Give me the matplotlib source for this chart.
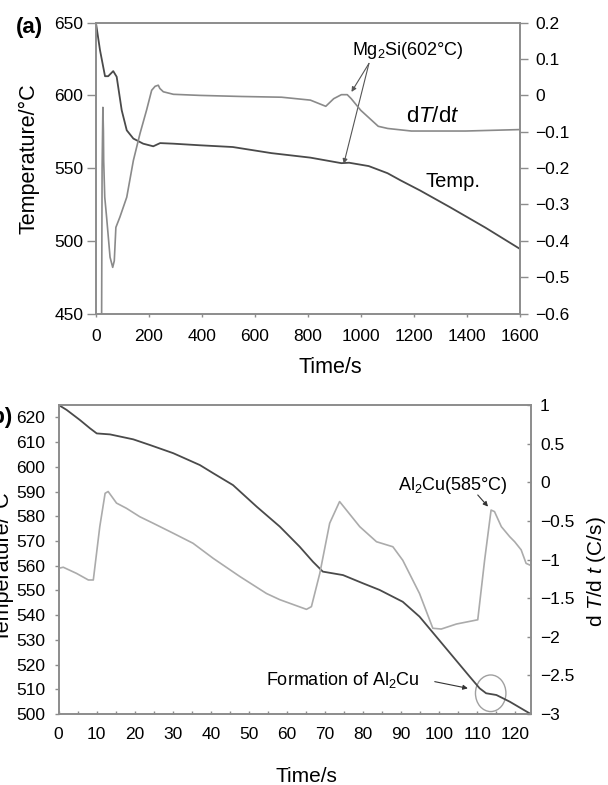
import numpy as np
import matplotlib
matplotlib.use("Agg")
import matplotlib.pyplot as plt
from matplotlib.ticker import MultipleLocator, FuncFormatter
from matplotlib.patches import Ellipse

plt.rcParams["font.family"] = ["Liberation Sans", "DejaVu Sans"]
plt.rcParams["mathtext.fontset"] = "custom"
plt.rcParams["mathtext.rm"] = "Liberation Sans"
plt.rcParams["mathtext.it"] = "Liberation Sans:italic"
plt.rcParams["mathtext.default"] = "regular"

#%% data
# (a) cooling curve, long run
a_time_temp = [0, 15, 34, 46, 65, 78, 97, 116, 141, 178, 216, 242, 292, 392, 516, 662,
               809, 926, 955, 1029, 1100, 1150, 1223, 1336, 1470, 1600]
a_temp = [649.6, 631.2, 613.2, 613.2, 616.7, 612.8, 589.8, 576.0, 570.3, 566.8, 565.0, 567.2,
          566.8, 565.7, 564.5, 560.3, 557.2, 553.4, 553.7, 551.4, 546.5, 541.5, 534.6, 523.1,
          509.0, 494.4]
a_time_rate = [21, 23, 26, 28, 29, 33, 40, 53, 63, 69, 75, 90, 116, 141, 166, 191, 210, 223,
               235, 241, 254, 292, 392, 550, 700, 809, 867, 897, 926, 948, 963, 999, 1065,
               1101, 1190, 1395, 1600]
a_rate = [-0.65, -0.2, -0.033, -0.1, -0.18, -0.28, -0.335, -0.445, -0.473, -0.455, -0.363,
          -0.335, -0.28, -0.179, -0.105, -0.04, 0.014, 0.025, 0.028, 0.019, 0.01, 0.003, 0.0,
          -0.003, -0.005, -0.013, -0.030, -0.009, 0.002, 0.002, -0.009, -0.041, -0.085,
          -0.091, -0.098, -0.098, -0.094]

# (b) cooling curve, short run
b_time_temp = [0, 2.1, 5.6, 8.2, 10, 13.5, 19.6, 24, 30.1, 37.1, 40.6, 45.8, 52, 58.1, 63.3,
               66.8, 69.4, 74.7, 79.9, 84.3, 90.4, 94.8, 99.2, 103.6, 108, 110.6, 112.3, 115,
               118.5, 123.7]
b_temp = [625, 623, 618.9, 615.6, 613.5, 613.1, 611.1, 608.8, 605.5, 600.7, 597.4, 592.6,
          583.9, 575.8, 567.7, 561.6, 557.6, 556.2, 552.9, 550.2, 545.4, 539.4, 531.3, 523.2,
          515.1, 510.4, 508.4, 507.7, 505.0, 500.3]
b_time_rate = [0, 1.2, 4.7, 7.8, 9.1, 10.8, 12.2, 13, 15.2, 17.8, 21.3, 24.8, 30.1, 35.3, 40.6,
               47.6, 54.6, 58.1, 65.1, 66.4, 68.6, 71.2, 73.8, 79.1, 83.5, 87.8, 90.4, 94.8,
               98.3, 100.5, 104.5, 110.1, 111.9, 113.6, 114.5, 116.3, 118.5, 119.8, 121.5,
               122.8, 123.7]
b_rate = [-1.114, -1.10, -1.18, -1.265, -1.265, -0.575, -0.143, -0.12, -0.27, -0.337, -0.446,
          -0.53, -0.66, -0.79, -0.985, -1.22, -1.44, -1.52, -1.645, -1.61, -1.18, -0.53, -0.25,
          -0.575, -0.77, -0.835, -1.01, -1.44, -1.89, -1.90, -1.835, -1.78, -1.01, -0.36,
          -0.38, -0.575, -0.705, -0.77, -0.875, -1.05, -1.07]

# annotation anchors (time, temperature)
mg2si_text = (1177, 631.2)
mg2si_tail = (1030, 622)
mg2si_tips = [(964, 602.4), (935, 553)]
al2cu_text = (103.5, 592.6)
al2cu_arrow = [(110.1, 588.6), (112.8, 583.9)]
form_text = (54.4, 513.8)
form_arrow = [(98.8, 513.1), (107.5, 510.4)]
circle_xy = (113.5, 508.4)

#%% styles
spine_c = "#8c8c8c"
temp_c = "#4a4a4a"
rate_c_a = "#8a8a8a"
rate_c_b = "#ababab"
fmt = FuncFormatter(lambda v, p: ("%g" % round(v, 2)).replace("-", "\u2212"))


def style_spines(axis):
    for s in axis.spines.values():
        s.set_color(spine_c)
        s.set_linewidth(1.2)


fig = plt.figure(figsize=(6.08, 7.85), dpi=100)

#%% panel (a)
ax1 = fig.add_axes([0.1579, 0.6006, 0.6974, 0.3705])
ax1r = ax1.twinx()
ax1.plot(a_time_temp, a_temp, color=temp_c, lw=1.3)
ax1r.plot(a_time_rate, a_rate, color=rate_c_a, lw=1.2)
ax1.set_xlim(0, 1600)
ax1.set_ylim(450, 650)
ax1r.set_ylim(-0.6, 0.2)
ax1.xaxis.set_major_locator(MultipleLocator(200))
ax1.yaxis.set_major_locator(MultipleLocator(50))
ax1r.yaxis.set_major_locator(MultipleLocator(0.1))
ax1r.yaxis.set_major_formatter(fmt)
ax1.tick_params(axis="y", direction="out", length=6.3, width=1, color=spine_c, pad=2.9,
                labelsize=12.5)
ax1.tick_params(axis="x", direction="out", length=2.3, width=1, color=spine_c, pad=9,
                labelsize=12.5)
ax1r.tick_params(axis="y", direction="out", length=6, width=1, color=spine_c, pad=4.8,
                 labelsize=12.5)
style_spines(ax1)
style_spines(ax1r)
ax1.set_ylabel("Temperature/\u00b0C", fontsize=15.5, va="center")
ax1.yaxis.set_label_coords(-0.158, 0.532)
ax1.set_xlabel("Time/s", fontsize=15.5, va="center")
ax1.xaxis.set_label_coords(0.552, -0.187)

ax1.text(*mg2si_text, "Mg$_2$Si(602\u00b0C)", fontsize=13, ha="center", va="center")
for tip in mg2si_tips:
    ax1.annotate("", xy=tip, xytext=mg2si_tail,
                 arrowprops=dict(arrowstyle="-|>", color="#555555", lw=0.8,
                                 mutation_scale=7, shrinkA=0, shrinkB=0))
ax1.text(1270, 585.2, "d$\\mathit{T}$/d$\\mathit{t}$", fontsize=16, ha="center", va="center")
ax1.text(1348, 540.8, "Temp.", fontsize=14.5, ha="center", va="center")
fig.text(29 / 608, 1 - 27 / 785, "(a)", fontsize=16, fontweight="bold", ha="center",
         va="center")

#%% panel (b)
ax2 = fig.add_axes([0.0965, 0.0904, 0.7763, 0.3937])
ax2r = ax2.twinx()
ax2.plot(b_time_temp, b_temp, color=temp_c, lw=1.3)
ax2r.plot(b_time_rate, b_rate, color=rate_c_b, lw=1.2)
ax2.set_xlim(0, 124)
ax2.set_ylim(500, 625)
ax2r.set_ylim(-3, 1)
ax2.xaxis.set_major_locator(MultipleLocator(10))
ax2.xaxis.set_minor_locator(MultipleLocator(5))
ax2.set_yticks(np.arange(500, 621, 10))
ax2r.yaxis.set_major_locator(MultipleLocator(0.5))
ax2r.yaxis.set_major_formatter(fmt)
ax2.tick_params(axis="y", direction="out", length=3, width=1, color=spine_c, pad=6.5,
                labelsize=12.5)
ax2.tick_params(axis="x", which="both", direction="in", length=2.5, width=1, color=spine_c,
                pad=9.5, labelsize=12.5)
ax2r.tick_params(axis="y", direction="in", length=3, width=1, color=spine_c, pad=6.7,
                 labelsize=12.5)
style_spines(ax2)
style_spines(ax2r)
ax2.set_ylabel("Temperature/\u00b0C", fontsize=15.5, va="center")
ax2.yaxis.set_label_coords(-0.118, 0.478)
ax2.set_xlabel("Time/s", fontsize=15, va="center")
ax2.xaxis.set_label_coords(0.525, -0.203)
ax2r.set_ylabel("d $\\mathit{T}$/d $\\mathit{t}$ (C/s)", fontsize=15, va="center")
ax2r.yaxis.set_label_coords(1.14, 0.46)

ax2.text(*al2cu_text, "Al$_2$Cu(585\u00b0C)", fontsize=13, ha="center", va="center")
ax2.annotate("", xy=al2cu_arrow[1], xytext=al2cu_arrow[0],
             arrowprops=dict(arrowstyle="-|>", color="#333333", lw=0.8,
                             mutation_scale=7, shrinkA=0, shrinkB=0))
ax2.text(*form_text, "Formation of Al$_2$Cu", fontsize=13, ha="left", va="center")
ax2.annotate("", xy=form_arrow[1], xytext=form_arrow[0],
             arrowprops=dict(arrowstyle="-|>", color="#333333", lw=0.8,
                             mutation_scale=7, shrinkA=0, shrinkB=0))
ax2.add_patch(Ellipse(circle_xy, width=8.0, height=14.8, fill=False, edgecolor="#a0a0a0",
                      lw=1.0))
fig.text(13 / 608, 1 - 418 / 785, "(b)", fontsize=16, fontweight="bold", ha="right",
         va="center")

fig.savefig("out.png", dpi=100)
